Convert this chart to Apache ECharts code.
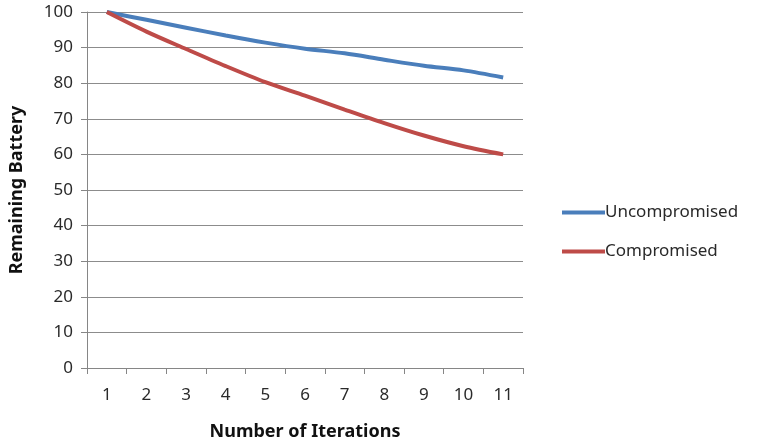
<!DOCTYPE html>
<html><head><meta charset="utf-8">
<script src="https://cdn.jsdelivr.net/npm/echarts@6/dist/echarts.min.js"></script>
<style>html,body{margin:0;padding:0;background:#fff}#c{width:758px;height:446px}</style>
</head><body><div id="c"></div>
<script>
const categories = ['1','2','3','4','5','6','7','8','9','10','11'];
const uncompromised = [100, 97.8, 95.6, 93.4, 91.4, 89.7, 88.4, 86.6, 84.9, 83.6, 81.6];
const compromised = [100, 94.5, 89.6, 84.8, 80.3, 76.5, 72.6, 68.8, 65.3, 62.3, 60];
const yTicks = [0,10,20,30,40,50,60,70,80,90,100];

const font = 'Noto Sans';
const chart = echarts.init(document.getElementById('c'));
chart.setOption({
  animation: false,
  grid: {left: 87, right: 235, top: 12, bottom: 77},
  legend: {
    orient: 'vertical', left: 557, top: 199, itemGap: 22,
    itemWidth: 43, itemHeight: 4, icon: 'rect',
    textStyle: {fontFamily: font, fontSize: 17, color: '#2a2a2a', padding: [0,0,0,-5]},
    data: ['Uncompromised', 'Compromised']
  },
  xAxis: {
    type: 'category', data: categories, boundaryGap: true,
    name: 'Number of Iterations', nameLocation: 'middle', nameGap: 55,
    nameTextStyle: {fontFamily: font, fontSize: 18, fontWeight: 'bold', color: '#111'},
    axisLine: {lineStyle: {color: '#868686', width: 1}},
    axisTick: {show: true, length: 6, lineStyle: {color: '#868686'}},
    axisLabel: {fontFamily: font, fontSize: 17, color: '#2a2a2a', margin: 19}
  },
  yAxis: {
    type: 'value', min: 0, max: 100, interval: 10,
    name: 'Remaining Battery', nameLocation: 'middle', nameGap: 61, nameRotate: 90,
    nameTextStyle: {fontFamily: font, fontSize: 18, fontWeight: 'bold', color: '#111'},
    axisLine: {show: true, lineStyle: {color: '#868686', width: 1}},
    axisTick: {show: true, length: 6, lineStyle: {color: '#868686'}},
    axisLabel: {fontFamily: font, fontSize: 17, color: '#2a2a2a', margin: 14,
      formatter: v => yTicks.includes(v) ? String(v) : ''},
    splitLine: {lineStyle: {color: '#8c8c8c', width: 1}}
  },
  series: [
    {name: 'Uncompromised', type: 'line', data: uncompromised, smooth: 0.3, symbol: 'none',
      lineStyle: {color: '#4A7EBB', width: 4}, itemStyle: {color: '#4A7EBB'}},
    {name: 'Compromised', type: 'line', data: compromised, smooth: 0.3, symbol: 'none',
      lineStyle: {color: '#BE4B48', width: 4}, itemStyle: {color: '#BE4B48'}}
  ]
});
</script></body></html>
